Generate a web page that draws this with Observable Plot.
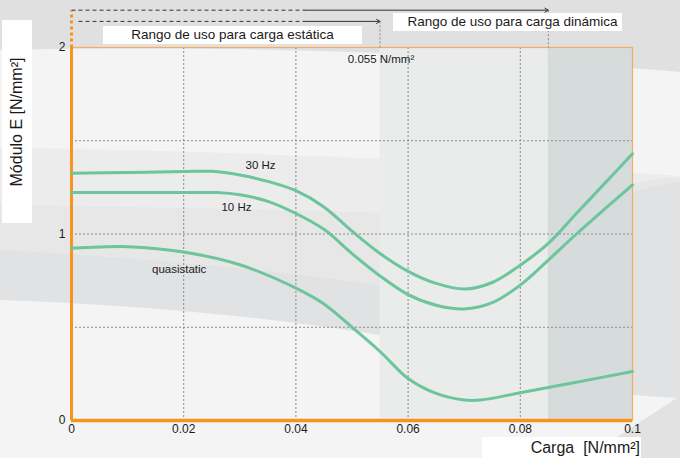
<!DOCTYPE html>
<html>
<head>
<meta charset="utf-8">
<script src="https://cdn.jsdelivr.net/npm/d3@7"></script>
<script src="https://cdn.jsdelivr.net/npm/@observablehq/plot@0.6"></script>
<style>
  html, body { margin: 0; padding: 0; background: #f4f4f4; }
  #wrap { position: relative; width: 680px; height: 458px; overflow: hidden; font-family: "Liberation Sans", Arial, sans-serif; color: #1a1a1a; }
  #bg, #chart { position: absolute; left: 0; top: 0; }
  .box { position: absolute; background: #fff; box-sizing: border-box; white-space: pre; }
  #ytitle { left: 2px; top: 20px; width: 30px; height: 203px; }
  #ytitle span { position: absolute; left: 50%; top: 50%; transform: translate(-50%, -50%) rotate(-90deg); font-size: 16px; }
  #xtitle { left: 482px; top: 437px; width: 159px; height: 21px; font-size: 16px; text-align: right; line-height: 21px; padding-right: 1px; }
  #dyn { left: 393px; top: 13px; width: 229px; height: 18px; font-size: 13.5px; line-height: 18px; text-align: center; padding-left: 10px; }
  #sta { left: 103px; top: 26px; width: 259px; height: 18px; font-size: 13.5px; line-height: 18px; text-align: center; }
</style>
</head>
<body>
<div id="wrap">
  <svg id="bg" width="680" height="458">
    <rect width="680" height="458" fill="#f4f4f4"/>
    <path d="M0,0H680V72C520,58 300,44 0,50Z" fill="#e0e0e1"/>
    <path d="M0,148C200,150 450,160 680,176V458H0Z" fill="#ececed"/>
    <path d="M0,205C150,207 300,210 450,215C550,220 620,176 680,178V458H0Z" fill="#e7e7e8"/>
    <path d="M0,250C150,258 300,272 420,292C520,250 600,190 680,182V458H0Z" fill="#e1e2e4"/>
    <path d="M0,300C150,305 300,320 420,342C520,380 600,395 680,398V458H0Z" fill="#f4f4f4"/>
    <path d="M585,458L680,396V458Z" fill="#e2e2e3"/>
  </svg>
  <div id="chart"></div>
  <div class="box" id="ytitle"><span></span></div>
  <div class="box" id="xtitle"></div>
  <div class="box" id="dyn"></div>
  <div class="box" id="sta"></div>
</div>
<script>
// ---- data ----
const seriesNames = ["30 Hz", "10 Hz", "quasistatic"];

const carga30 = [0, 0.01, 0.02, 0.025, 0.03, 0.035, 0.04, 0.045, 0.05, 0.055, 0.06, 0.065, 0.07, 0.075, 0.08, 0.085, 0.09, 0.095, 0.1];
const modulo30 = [1.326, 1.330, 1.335, 1.336, 1.316, 1.282, 1.232, 1.145, 1.015, 0.895, 0.80, 0.735, 0.705, 0.74, 0.833, 0.95, 1.11, 1.27, 1.43];

const carga10 = [0, 0.01, 0.02, 0.026, 0.03, 0.035, 0.04, 0.045, 0.05, 0.055, 0.06, 0.065, 0.07, 0.075, 0.08, 0.085, 0.09, 0.095, 0.1];
const modulo10 = [1.222, 1.222, 1.222, 1.222, 1.21, 1.175, 1.11, 1.025, 0.895, 0.775, 0.675, 0.618, 0.598, 0.632, 0.726, 0.86, 1.0, 1.133, 1.263];

const cargaQ = [0, 0.005, 0.01, 0.02, 0.03, 0.04, 0.045, 0.05, 0.055, 0.06, 0.065, 0.07, 0.073, 0.08, 0.09, 0.1];
const moduloQ = [0.923, 0.93, 0.932, 0.903, 0.835, 0.71, 0.625, 0.50, 0.37, 0.225, 0.145, 0.11, 0.11, 0.149, 0.205, 0.263];

const labelX = [0.0337, 0.0294, 0.0192];
const labelY = [1.366, 1.145, 0.812];

const zoneEdges = [0.055, 0.085, 0.1];
const zoneLabel = "0.055 N/mm²";

const rangeLabels = ["Rango de uso para carga dinámica", "Rango de uso para carga estática"];
const rangeStart = [0, 0.00125];
const rangeSolidFrom = [0.0415, 0.0415];
const rangeEnd = [0.085, 0.055];
const rangeLevel = [2.2, 2.14];

const xTicks = [0, 0.02, 0.04, 0.06, 0.08, 0.1];
const xTickLabels = ["0", "0.02", "0.04", "0.06", "0.08", "0.1"];
const yTicks = [0, 1, 2];
const yTickLabels = ["0", "1", "2"];
const yGrid = [0.5, 1, 1.5];
const xDomain = [0, 0.1];
const yDomain = [0, 2];

const xTitle = "Carga  [N/mm²]";
const yTitle = "Módulo E [N/mm²]";

// ---- build tables ----
const xs = [carga30, carga10, cargaQ];
const ys = [modulo30, modulo10, moduloQ];
const rows = [];
seriesNames.forEach((s, k) => xs[k].forEach((x, i) => rows.push({series: s, x, y: ys[k][i]})));
const labels = seriesNames.map((s, i) => ({text: s, x: labelX[i], y: labelY[i]}));
const ranges = rangeLabels.map((t, i) => ({t, x0: rangeStart[i], xm: rangeSolidFrom[i], x1: rangeEnd[i], y: rangeLevel[i]}));

const orange = "#f7941d";
const green = "#6cc59b";
const gridC = "#8a8a8a";

const chart = Plot.plot({
  width: 680,
  height: 458,
  marginLeft: 71,
  marginRight: 48,
  marginTop: 47,
  marginBottom: 38,
  style: {background: "transparent", fontFamily: "'Liberation Sans', Arial, sans-serif", fontSize: "12px", color: "#1a1a1a"},
  x: {domain: xDomain, ticks: xTicks, tickSize: 0, tickPadding: 4, tickFormat: d => xTickLabels[xTicks.indexOf(d)], label: null},
  y: {domain: yDomain, ticks: yTicks, tickSize: 0, tickPadding: 6, tickFormat: d => yTickLabels[yTicks.indexOf(d)], label: null},
  marks: [
    Plot.rect([zoneEdges], {x1: d => d[0], x2: d => d[1], y1: yDomain[0], y2: yDomain[1], fill: "#eaeceb"}),
    Plot.rect([zoneEdges], {x1: d => d[1], x2: d => d[2], y1: yDomain[0], y2: yDomain[1], fill: "#d6dcdc"}),
    Plot.ruleX(xTicks.slice(1, -1), {stroke: gridC, strokeWidth: 1, strokeDasharray: "2,2"}),
    Plot.ruleY(yGrid, {stroke: gridC, strokeWidth: 1, strokeDasharray: "2,2"}),
    Plot.frame({stroke: "#f5ad5a", strokeWidth: 1.2}),
    Plot.ruleX([xDomain[0]], {stroke: orange, strokeWidth: 3}),
    Plot.ruleY([yDomain[0]], {stroke: orange, strokeWidth: 3.5}),
    Plot.line(rows, {x: "x", y: "y", z: "series", stroke: green, strokeWidth: 3, curve: "catmull-rom"}),
    Plot.text(labels, {x: "x", y: "y", text: "text", fontSize: 11.5, fill: "#1a1a1a"}),
    Plot.text([zoneLabel], {x: zoneEdges[0], y: yDomain[1], text: d => d, dx: 1, dy: 12, fontSize: 11.5, fill: "#1a1a1a"}),
    // usage range arrows above the frame
    Plot.link([ranges[0]], {x1: xDomain[0], x2: xDomain[0], y1: yDomain[1], y2: d => d.y, stroke: orange, strokeWidth: 3, strokeDasharray: "3,3"}),
    Plot.link(ranges, {x1: "x0", x2: "xm", y1: "y", y2: "y", stroke: "#333", strokeWidth: 1, strokeDasharray: "4,3"}),
    Plot.arrow(ranges, {x1: "xm", x2: "x1", y1: "y", y2: "y", stroke: "#333", strokeWidth: 1, headLength: 6}),
    Plot.link(ranges, {x1: "x1", x2: "x1", y1: "y", y2: yDomain[1], stroke: gridC, strokeWidth: 1, strokeDasharray: "2,2"})
  ]
});
document.getElementById("chart").appendChild(chart);

document.querySelector("#ytitle span").textContent = yTitle;
document.getElementById("xtitle").textContent = xTitle;
document.getElementById("dyn").textContent = rangeLabels[0];
document.getElementById("sta").textContent = rangeLabels[1];
</script>
</body>
</html>
